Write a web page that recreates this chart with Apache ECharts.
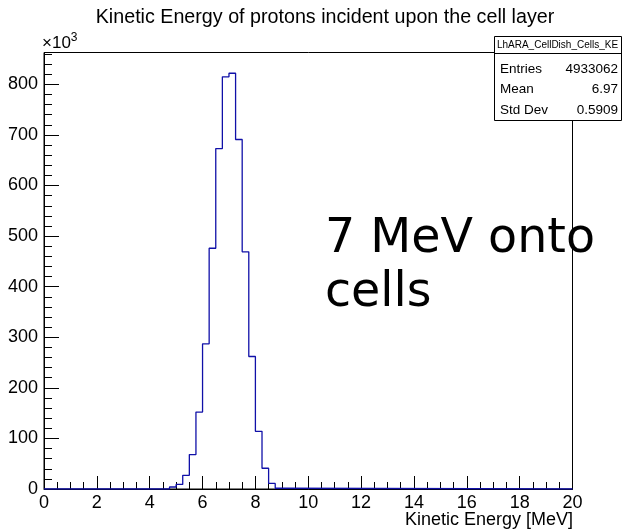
<!DOCTYPE html>
<html>
<head>
<meta charset="utf-8">
<script src="https://cdn.jsdelivr.net/npm/echarts@6/dist/echarts.min.js"></script>
<style>
html,body{margin:0;padding:0;background:#fff;}
#chart{width:622px;height:531px;}
</style>
</head>
<body>
<div id="chart"></div>
<script>
// Histogram: 80 bins of 0.25 MeV over 0-20 MeV; only non-empty bins listed (counts in thousands)
const histRange = [0, 20];
const binWidth = 0.25;
const binLowEdges = [4.75, 5.0, 5.25, 5.5, 5.75, 6.0, 6.25, 6.5, 6.75, 7.0, 7.25, 7.5, 7.75, 8.0, 8.25, 8.5, 8.75];
const binCounts   = [4, 9, 27, 68, 152, 287, 476, 673, 815, 822, 691, 469, 262, 114, 41, 11, 1.5];
const yMax = 863;
const xTicks = [0, 2, 4, 6, 8, 10, 12, 14, 16, 18, 20];
const yTicks = [0, 100, 200, 300, 400, 500, 600, 700, 800];

const titleText = 'Kinetic Energy of protons incident upon the cell layer';
const xTitle = 'Kinetic Energy [MeV]';
const annotation = '7 MeV onto\ncells';
const statsName = 'LhARA_CellDish_Cells_KE';
const statsRows = [['Entries', '4933062'], ['Mean', '6.97'], ['Std Dev', '0.5909']];

// Build step outline points from the bin arrays
const stepData = [[histRange[0], 0]];
binLowEdges.forEach((e, i) => stepData.push([e, binCounts[i]]));
stepData.push([binLowEdges[binLowEdges.length - 1] + binWidth, 0]);
stepData.push([histRange[1], 0]);

const FONT = '"Liberation Sans", Arial, Helvetica, sans-serif';
const chart = echarts.init(document.getElementById('chart'), null, {renderer: 'canvas'});

const statsGraphics = [
  {type: 'rect', shape: {x: 494.5, y: 36.5, width: 127, height: 84}, style: {fill: '#fff', stroke: '#000', lineWidth: 1}, z: 100},
  {type: 'line', shape: {x1: 494.5, y1: 53.5, x2: 621.5, y2: 53.5}, style: {stroke: '#000', lineWidth: 1}, z: 101},
  {type: 'text', x: 557.5, y: 45.5, style: {text: statsName, font: '10px ' + FONT, fill: '#000', align: 'center', verticalAlign: 'middle'}, z: 102}
];
statsRows.forEach((r, i) => {
  const y = 69 + i * 20.5;
  statsGraphics.push({type: 'text', x: 500, y: y, style: {text: r[0], font: '13.5px ' + FONT, fill: '#000', align: 'left', verticalAlign: 'middle'}, z: 102});
  statsGraphics.push({type: 'text', x: 618, y: y, style: {text: r[1], font: '13.5px ' + FONT, fill: '#000', align: 'right', verticalAlign: 'middle'}, z: 102});
});

const option = {
  animation: false,
  backgroundColor: '#fff',
  grid: {left: 44, right: 49.5, top: 52.5, bottom: 42, show: true, borderColor: '#000', borderWidth: 1, backgroundColor: 'transparent'},
  xAxis: {
    type: 'value', min: histRange[0], max: histRange[1], interval: 2,
    axisLine: {show: true, onZero: false, lineStyle: {color: '#000', width: 1}},
    axisTick: {show: true, inside: true, length: 13, lineStyle: {color: '#000'}},
    minorTick: {show: true, splitNumber: 4, length: 7, lineStyle: {color: '#000'}},
    axisLabel: {color: '#000', fontSize: 18, fontFamily: FONT, margin: 5,
      formatter: v => (xTicks.indexOf(v) >= 0 ? String(v) : '')},
    splitLine: {show: false}
  },
  yAxis: [{
    type: 'value', min: 0, max: yMax, interval: 100,
    axisLine: {show: true, onZero: false, lineStyle: {color: '#000', width: 1}},
    axisTick: {show: true, inside: true, length: 15, lineStyle: {color: '#000'}},
    axisLabel: {color: '#000', fontSize: 18, fontFamily: FONT, margin: 6, showMaxLabel: false,
      formatter: v => (yTicks.indexOf(v) >= 0 ? String(v) : '')},
    splitLine: {show: false}
  }, {
    type: 'value', min: 0, max: yMax, interval: 20, position: 'left', offset: 0,
    axisLine: {show: false},
    axisTick: {show: true, inside: true, length: 8, lineStyle: {color: '#000'}},
    axisLabel: {show: false},
    splitLine: {show: false}
  }],
  series: [{
    type: 'line', step: 'end', data: stepData, yAxisIndex: 0,
    symbol: 'none', lineStyle: {color: '#1010a8', width: 1.3}, z: 3
  }],
  graphic: [
    {type: 'text', x: 325, y: 18, style: {text: titleText, font: '19.7px ' + FONT, fill: '#000', align: 'center', verticalAlign: 'middle'}},
    {type: 'text', x: 573, y: 520, style: {text: xTitle, font: '18px ' + FONT, fill: '#000', align: 'right', verticalAlign: 'middle'}},
    {type: 'text', x: 42, y: 52, style: {
      text: '{a|×10}{b|3}', align: 'left', verticalAlign: 'bottom',
      rich: {a: {font: '17px ' + FONT, fill: '#000', verticalAlign: 'bottom'}, b: {font: '12px ' + FONT, fill: '#000', verticalAlign: 'top', padding: [0, 0, 8, 0]}}
    }},
    {type: 'text', x: 325, y: 213, z: 50, style: {text: annotation, font: '47.5px "DejaVu Sans"', fill: '#000', align: 'left', verticalAlign: 'top', lineHeight: 54}}
  ].concat(statsGraphics)
};
chart.setOption(option);
</script>
</body>
</html>
